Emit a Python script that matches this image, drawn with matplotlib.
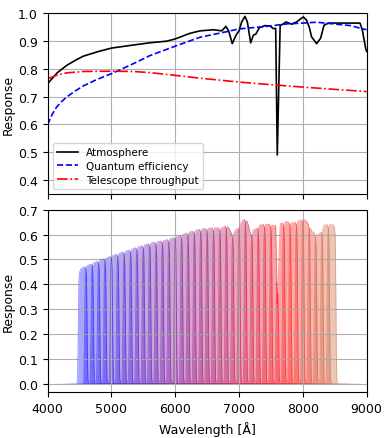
import numpy as np
import matplotlib
matplotlib.use('Agg')
import matplotlib.pyplot as plt
from matplotlib.colors import LinearSegmentedColormap

plt.rcParams['font.size'] = 9

# atmosphere transmission
atm_wl = [4000, 4150, 4300, 4450, 4560, 4800, 5000, 5340, 5600, 5870, 6000, 6230, 6390, 6550, 6600, 6730,
          6796, 6840, 6894, 6952, 7000, 7042, 7094, 7131, 7183, 7224, 7266, 7318, 7407, 7496, 7538,
          7575, 7600, 7645, 7700, 7736, 7825, 7904, 7960, 8008, 8060, 8100, 8139, 8217, 8280, 8332,
          8400, 8635, 8897, 8934, 8960, 8986, 9000]
atm_val = [0.746, 0.785, 0.812, 0.832, 0.845, 0.862, 0.874, 0.885, 0.893, 0.899, 0.907, 0.927, 0.936, 0.939,
           0.940, 0.936, 0.952, 0.935, 0.890, 0.920, 0.936, 0.968, 0.988, 0.968, 0.893, 0.920, 0.925, 0.947,
           0.955, 0.952, 0.944, 0.945, 0.490, 0.955, 0.962, 0.968, 0.960, 0.968, 0.978, 0.986, 0.974, 0.950,
           0.914, 0.890, 0.910, 0.956, 0.964, 0.964, 0.964, 0.938, 0.905, 0.872, 0.862]

# quantum efficiency, blue dashed curve
qe_wl = [4000, 4070, 4141, 4220, 4298, 4420, 4559, 4780, 5000, 5343, 5604, 6000, 6389, 6806, 7000,
         7433, 7747, 8000, 8217, 8479, 8740, 9000]
qe_val = [0.599, 0.635, 0.662, 0.682, 0.698, 0.718, 0.738, 0.762, 0.782, 0.818, 0.847, 0.881, 0.913,
          0.933, 0.943, 0.952, 0.961, 0.964, 0.967, 0.961, 0.955, 0.940]

# telescope throughput, red dash-dot curve
tel_wl = [4000, 4150, 4298, 4559, 5000, 5343, 5604, 6000, 6389, 7000, 7590, 8000, 8479, 9000]
tel_val = [0.764, 0.777, 0.785, 0.790, 0.791, 0.790, 0.786, 0.776, 0.766, 0.752, 0.741, 0.734, 0.726, 0.718]

# narrow-band filters: centres and the common profile (offset from centre, transmission)
filter_centers = np.arange(4550, 8500, 100)
prof_off = [-450, -95, -82, -74, -67, -60, -50, -30, 0, 30, 50, 60, 67, 74, 82, 95, 450]
prof_T = [0.002, 0.004, 0.03, 0.25, 0.6, 0.86, 0.93, 0.95, 0.95, 0.95, 0.93, 0.86, 0.6, 0.25, 0.03, 0.004, 0.002]

fig = plt.figure(figsize=(3.9, 4.39), dpi=100)
ax1 = fig.add_axes([0.122, 0.556, 0.818, 0.412])
ax2 = fig.add_axes([0.122, 0.104, 0.818, 0.416], sharex=ax1)

ax1.plot(atm_wl, atm_val, color='k', lw=1.2, label='Atmosphere')
ax1.plot(qe_wl, qe_val, color='b', lw=1.2, ls='--', label='Quantum efficiency')
ax1.plot(tel_wl, tel_val, color='r', lw=1.2, ls='-.', label='Telescope throughput')
ax1.set_ylim(0.35, 1.0)
ax1.set_yticks([0.4, 0.5, 0.6, 0.7, 0.8, 0.9, 1.0])
ax1.set_ylabel('Response', labelpad=2)
ax1.grid(True, color='#b0b0b0', lw=0.8)
ax1.tick_params(labelbottom=False)
ax1.legend(loc='lower left', fontsize=7.5, labelspacing=0.35, framealpha=0.8,
           edgecolor='#cccccc', fancybox=True)

cmap = LinearSegmentedColormap.from_list('filt', [(0.0, (0, 0, 1)), (0.82, (1, 0, 0)), (1.0, (0.78, 0.38, 0.2))])
n = len(filter_centers)
for i, c in enumerate(filter_centers):
    wl = c + np.linspace(-450, 450, 901)
    prof = np.interp(wl - c, prof_off, prof_T)
    resp = (prof * np.interp(wl, atm_wl, atm_val)
            * np.interp(wl, qe_wl, qe_val) * np.interp(wl, tel_wl, tel_val))
    col = cmap(i / (n - 1))
    ax2.fill_between(wl, 0, resp, color=col, alpha=0.35, lw=0)
    ax2.plot(wl, np.where(prof > 0.01, resp, np.nan), color=col, alpha=0.4, lw=0.6)

ax2.set_xlim(4000, 9000)
ax2.set_ylim(-0.035, 0.7)
ax2.set_xticks([4000, 5000, 6000, 7000, 8000, 9000])
ax2.set_yticks(np.arange(0, 0.71, 0.1))
ax2.set_ylabel('Response', labelpad=2)
ax2.set_xlabel('Wavelength [Å]')
ax2.grid(True, color='#b0b0b0', lw=0.8)

fig.savefig('out.png', dpi=100)
